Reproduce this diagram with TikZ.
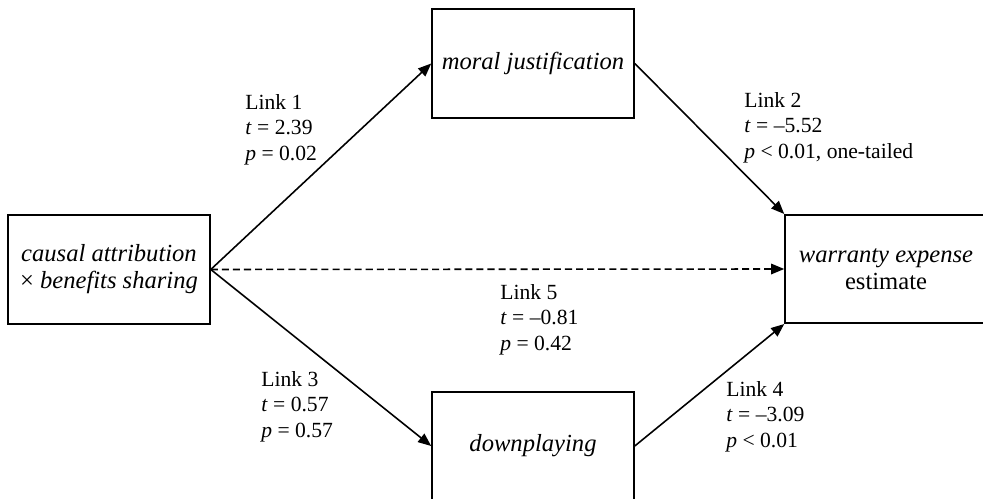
\documentclass[tikz,border=0pt]{standalone}
\usepackage{fontspec}
\setmainfont{Liberation Serif}
\usetikzlibrary{arrows.meta,positioning}

\begin{document}
\begin{tikzpicture}[x=0.02cm, y=-0.02cm, >={Triangle[length=7.5pt,width=6pt]},
  box/.style={draw, line width=0.9pt, minimum width=4.04cm, minimum height=2.17cm, inner sep=0pt, align=center, font=\fontsize{14}{15.4}\selectfont\itshape},
  link/.style={->, line width=0.9pt},
  lbl/.style={anchor=north west, inner sep=0pt, align=left, font=\fontsize{12.3}{14.5}\selectfont}]
  \clip (0,0) rectangle (983,499);
  \fill[white] (0,0) rectangle (983,499);

  % boxes
  \node[box] (cause) at (109,269.5) {causal attribution\\{\upshape ×} benefits sharing};
  \node[box] (moral) at (533,63.5) {moral justification};
  \node[box] (down) at (533,446) {downplaying};
  \node[box] (est) at (886,269) {warranty expense\\{\upshape estimate}};

  % links
  \draw[link] (cause.east) -- (moral.west);
  \draw[link] (moral.east) -- (est.north west);
  \draw[link, dash pattern=on 4pt off 2.3pt] (cause.east) -- (est.west);
  \draw[link] (cause.east) -- (down.west);
  \draw[link] (down.east) -- (est.south west);

  % statistics
  \node[lbl] (l1) at (245,94) {Link 1\\\textit{t} = 2.39\\\textit{p} = 0.02};
  \node[lbl] (l2) at (744,92) {Link 2\\\textit{t} = –5.52\\\textit{p} < 0.01, one-tailed};
  \node[lbl] (l5) at (500,284) {Link 5\\\textit{t} = –0.81\\\textit{p} = 0.42};
  \node[lbl] (l3) at (261,371) {Link 3\\\textit{t} = 0.57\\\textit{p} = 0.57};
  \node[lbl] (l4) at (726,381) {Link 4\\\textit{t} = –3.09\\\textit{p} < 0.01};
\end{tikzpicture}
\end{document}
